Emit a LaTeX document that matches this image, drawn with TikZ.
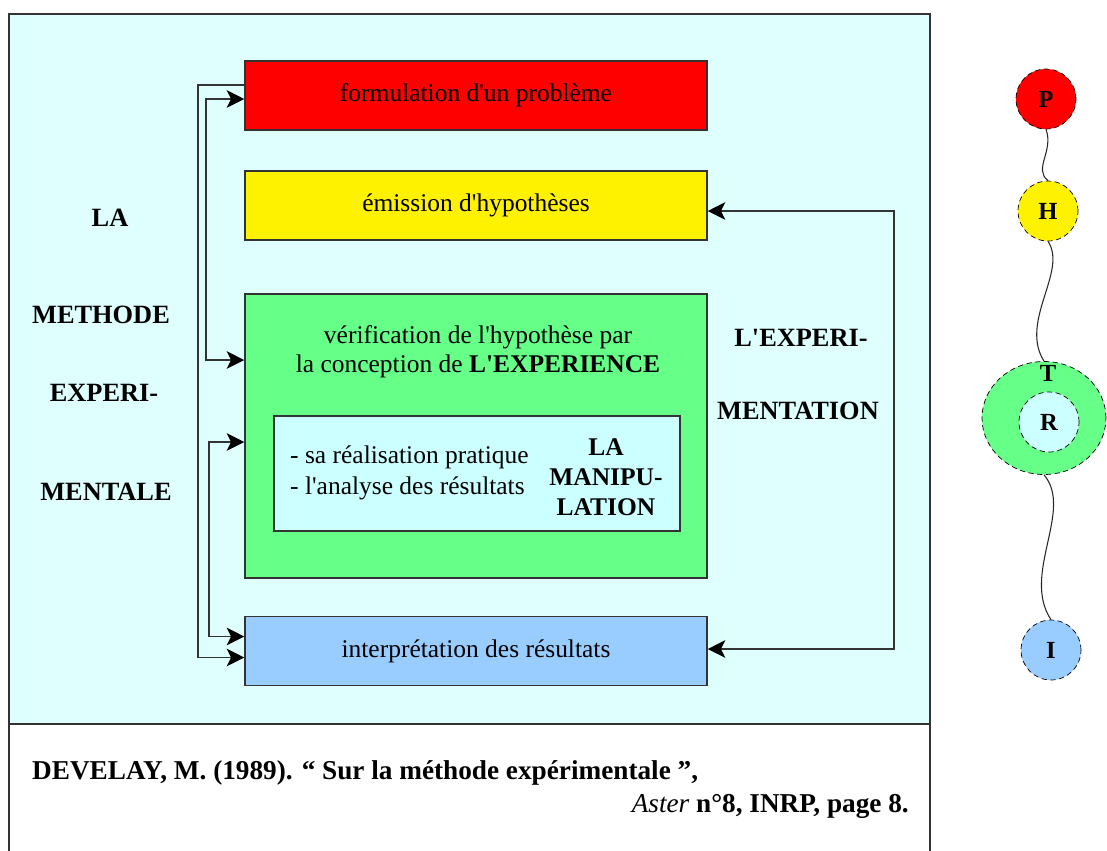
\documentclass[tikz,border=0pt]{standalone}
\usepackage{fontspec}
\setmainfont{Liberation Serif}[Ligatures=TeXOff]
\usetikzlibrary{shapes,arrows,arrows.meta,positioning}
\definecolor{bgcyan}{HTML}{DFFFFF}
\definecolor{probred}{HTML}{FF0000}
\definecolor{hypyellow}{HTML}{FFF200}
\definecolor{expgreen}{HTML}{66FF88}
\definecolor{manipcyan}{HTML}{CCFFFF}
\definecolor{interpblue}{HTML}{99CCFF}
\definecolor{edge}{HTML}{333333}

\tikzset{
  stepbox/.style={draw=edge, line width=0.9pt, minimum width=9.24cm, minimum height=1.38cm, inner sep=0pt, font=\fontsize{14.5}{17}\selectfont},
  sidelabel/.style={font=\fontsize{15}{18}\selectfont\bfseries},
  disc/.style={draw=black, densely dashed, thin, circle, minimum size=1.2cm, inner sep=0pt, font=\fontsize{14}{17}\selectfont\bfseries},
  link/.style={draw=edge, line width=0.9pt, >={Stealth[length=10pt,width=10pt,inset=2.5pt,color=black,fill=black]}},
  wave/.style={draw=black!85, line width=0.6pt},
}

\begin{document}
\begin{tikzpicture}[x=0.02cm,y=-0.02cm]
\useasboundingbox (0,0) rectangle (1107,850);
% cadre
\filldraw[draw=edge, line width=0.9pt, fill=bgcyan] (9,14) rectangle (930,724);
\draw[edge, line width=0.9pt] (9,852) -- (9,724) -- (930,724) -- (930,852);

% etapes
\node[stepbox, fill=probred] (prob) at (476,95.5) {formulation d'un problème};
\node[stepbox, fill=hypyellow] (hyp) at (476,205.5) {émission d'hypothèses};
\node[stepbox, fill=expgreen, minimum height=5.68cm] (verif) at (476,436) {};
\node[stepbox, fill=interpblue] (interp) at (476,651) {interprétation des résultats};
\node[draw=edge, line width=0.9pt, fill=manipcyan, minimum width=8.12cm, minimum height=2.3cm] (manip) at (477,473.5) {};

\node[align=center, font=\fontsize{14.5}{16.5}\selectfont] (veriftext) at (478,352) {vérification de l'hypothèse par\\la conception de \textbf{L'EXPERIENCE}};
\node[align=left, anchor=west, font=\fontsize{14.5}{17.5}\selectfont] (tasks) at (284,473) {- sa réalisation pratique\\- l'analyse des résultats};
\node[align=center, font=\fontsize{14.5}{17}\selectfont\bfseries] (maniplabel) at (606,477) {LA\\MANIPU-\\LATION};

% titres
\node[sidelabel] (la) at (110,218) {LA};
\node[sidelabel] (methode) at (101,315) {METHODE};
\node[sidelabel] (experi) at (104,393) {EXPERI-};
\node[sidelabel] (mentale) at (106,492) {MENTALE};
\node[sidelabel] (lexperi) at (801,338) {L'EXPERI-};
\node[sidelabel] (mentation) at (798,411) {MENTATION};

% fleches
\draw[link, ->] ([yshift=0.21cm]prob.west) -- ++(-46,0) |- ([yshift=-0.13cm]interp.west);
\draw[link, <->] ([yshift=-0.07cm]prob.west) -- ++(-38,0) |- ([yshift=1.52cm]verif.west);
\draw[link, <->] ([yshift=-0.12cm]verif.west) -- ++(-35,0) |- ([yshift=0.29cm]interp.west);
\draw[link, <->] ([yshift=-0.11cm]hyp.east) -- ++(186,0) |- ([yshift=0.04cm]interp.east);

% PHTRI
\node[disc, fill=probred] (P) at (1046,99) {P};
\node[disc, fill=hypyellow] (H) at (1048,211) {H};
\node[draw=black, densely dashed, thin, ellipse, fill=expgreen, minimum width=2.48cm, minimum height=2.26cm] (T) at (1044,418) {};
\node[font=\fontsize{14}{17}\selectfont\bfseries] (Tlabel) at (1048,373) {T};
\node[disc, fill=manipcyan] (R) at (1049,422) {R};
\node[disc, fill=interpblue] (I) at (1051,650) {I};

\draw[wave] (P.south) .. controls +(8,22) and +(-15,-12) .. (H.north);
\draw[wave] (H.south) .. controls +(20,30) and +(-25,-40) .. (T.north);
\draw[wave] (T.south) .. controls +(30,35) and +(-30,-45) .. (I.north);

% reference
\node[anchor=west, font=\fontsize{15.5}{18}\selectfont\bfseries] (cite) at (26,773) {DEVELAY, M. (1989). “ Sur la méthode expérimentale ”,};
\node[anchor=east, font=\fontsize{15.5}{18}\selectfont\bfseries] (source) at (915,806) {{\mdseries\itshape Aster} n°8, INRP, page 8.};
\end{tikzpicture}
\end{document}
